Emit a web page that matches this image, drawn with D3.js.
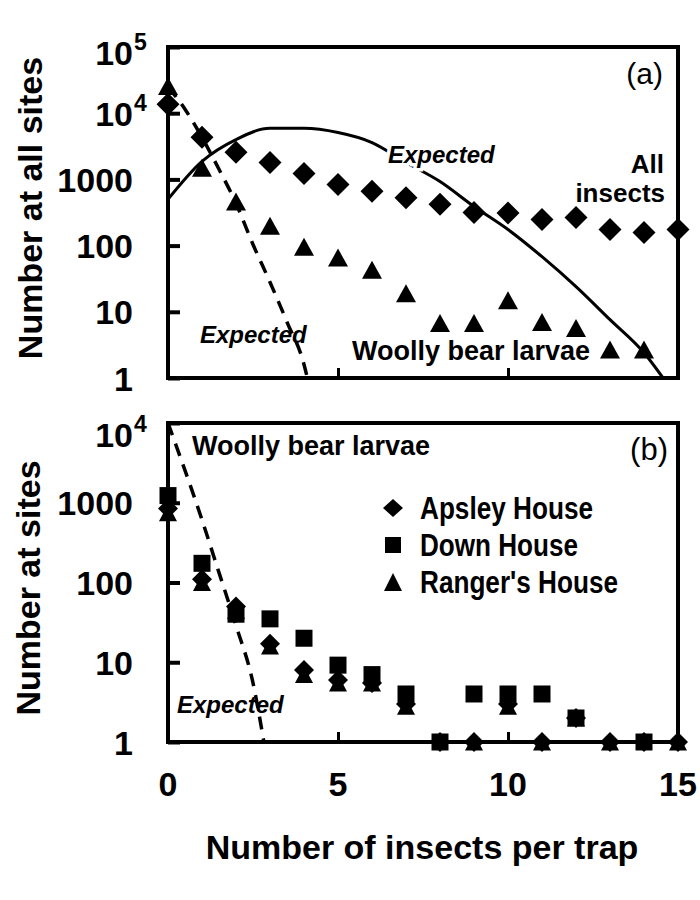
<!DOCTYPE html>
<html>
<head>
<meta charset="utf-8">
<script src="https://cdn.jsdelivr.net/npm/d3@7"></script>
<style>
body { margin: 0; background: #fff; }
text { font-family: "Liberation Sans", Arial, sans-serif; font-weight: bold; fill: #000; }
</style>
</head>
<body>
<svg id="svg"></svg>
<script>
var width = 700, height = 900;

// insects per trap (x categories)
var perTrap = [0, 1, 2, 3, 4, 5, 6, 7, 8, 9, 10, 11, 12, 13, 14, 15];

// panel (a): number at all sites
var allInsects = [13700, 4350, 2570, 1800, 1230, 840, 660, 530, 420, 316, 310, 247, 265, 175, 158, 175];
var woollyAll = [25700, 1500, 465, 200, 96, 66, 43, 19, 6.8, 6.8, 15, 7, 5.7, 2.7, 2.7, null];
var expAllX = [0, 1, 2, 3, 4, 5, 6, 7, 8, 9, 10, 11, 12, 13, 14, 14.56];
var expAllY = [500, 1870, 4000, 5900, 5900, 5100, 3600, 1800, 930, 390, 175, 68, 24, 7.6, 2.4, 1];
var expWoollyX = [0, 0.5, 1, 1.5, 2, 2.5, 3, 3.5, 4, 4.1];
var expWoollyY = [25000, 11500, 4300, 1420, 435, 104, 28, 7, 1.6, 1];

// panel (b): woolly bear larvae at each site
var apsley = [850, 110, 50, 17, 8, 6, 5.5, 3, 1, 1, 3, 1, 2, 1, 1, 1];
var down = [1230, 174, 40, 35, 20, 9.2, 7, 4, 1, 4, 4, 4, 2, null, 1, null];
var ranger = [750, 100, 45, 16, 7, 5.5, 5.5, 2.8, null, 1, 2.8, 1, 2, 1, null, 1];
var expSitesX = [0, 1, 1.5, 2, 2.5, 2.82];
var expSitesY = [10000, 610, 133, 29, 5.5, 1];

var yTicksA = [1, 10, 100, 1000, 1e4, 1e5];
var yTicksB = [1, 10, 100, 1000, 1e4];
var xTickLabels = [0, 5, 10, 15];
var xTickMarks = [5, 10];

var svg = d3.select("#svg")
	.attr("width", width)
	.attr("height", height);

var x = d3.scaleLinear().domain([0, 15]).range([168, 678]);
var yA = d3.scaleLog().domain([1, 1e5]).range([378, 47]);
var yB = d3.scaleLog().domain([1, 1e4]).range([742, 423]);

// marker shapes, centred on their bounding box
function diamond(w, h) {
	return "M0," + (-h / 2) + "L" + (w / 2) + ",0L0," + (h / 2) + "L" + (-w / 2) + ",0Z";
}
function square(s) {
	return "M" + (-s / 2) + "," + (-s / 2) + "h" + s + "v" + s + "h" + (-s) + "Z";
}
function triangle(w, h) {
	return "M0," + (-h / 2) + "L" + (w / 2) + "," + (h / 2) + "L" + (-w / 2) + "," + (h / 2) + "Z";
}

function points(g, y, values, shape) {
	var pts = perTrap.map(function(d, i) { return [d, values[i]]; })
		.filter(function(d) { return d[1] != null; });
	g.append("g").selectAll("path")
		.data(pts)
		.enter()
		.append("path")
		.attr("transform", function(d) { return "translate(" + x(d[0]) + "," + y(d[1]) + ")"; })
		.attr("d", shape)
		.style("fill", "#000");
}

function curve(g, y, xs, ys, dashed, clipId) {
	var line = d3.line()
		.x(function(d) { return x(d[0]); })
		.y(function(d) { return y(d[1]); })
		.curve(d3.curveMonotoneX);
	g.append("path")
		.datum(xs.map(function(d, i) { return [d, ys[i]]; }))
		.attr("d", line)
		.attr("clip-path", "url(#" + clipId + ")")
		.style("fill", "none")
		.style("stroke", "#000")
		.style("stroke-width", dashed ? 3.5 : 3)
		.style("stroke-dasharray", dashed ? "13,9" : null);
}

function frame(g, y, ticks, clipId, topShift) {
	var r = y.range();
	svg.append("clipPath").attr("id", clipId)
		.append("rect")
		.attr("x", x.range()[0]).attr("y", r[1])
		.attr("width", x.range()[1] - x.range()[0]).attr("height", r[0] - r[1]);

	g.append("g")
		.attr("transform", "translate(" + x.range()[0] + ",0)")
		.call(d3.axisLeft(y).tickValues(ticks).tickSize(-12).tickFormat(""))
		.call(function(a) {
			a.select(".domain").remove();
			a.selectAll("line").style("stroke-width", 4);
		});
	g.append("g")
		.attr("transform", "translate(0," + r[0] + ")")
		.call(d3.axisBottom(x).tickValues(xTickMarks).tickSize(-10).tickFormat(""))
		.call(function(a) {
			a.select(".domain").remove();
			a.selectAll("line").style("stroke-width", 3);
		});
	g.append("rect")
		.attr("x", x.range()[0]).attr("y", r[1])
		.attr("width", x.range()[1] - x.range()[0]).attr("height", r[0] - r[1])
		.style("fill", "none")
		.style("stroke", "#000")
		.style("stroke-width", 4);

	var maxTick = d3.max(ticks);
	ticks.forEach(function(v) {
		var base = y(v) + 12.5 + (v === maxTick ? topShift : 0);
		if (v >= 1e4) {
			var e = Math.round(Math.log10(v));
			g.append("text").attr("x", 133).attr("y", base)
				.style("text-anchor", "end").style("font-size", "34px").text("10");
			g.append("text").attr("x", 134).attr("y", base - 15)
				.style("font-size", "23px").text(e);
		} else {
			g.append("text").attr("x", 133).attr("y", base)
				.style("text-anchor", "end").style("font-size", "34px").text(v);
		}
	});
}

function label(g, txt, px, py, size, opts) {
	opts = opts || {};
	var t = g.append("text")
		.attr("x", px).attr("y", py)
		.style("font-size", size + "px")
		.style("text-anchor", opts.anchor || "start")
		.text(txt);
	if (opts.italic) t.style("font-style", "italic");
	if (opts.normal) t.style("font-weight", "normal");
	if (opts.len) t.attr("textLength", opts.len).attr("lengthAdjust", "spacingAndGlyphs");
	if (opts.halo) t.style("stroke", "#fff").style("stroke-width", 7).style("paint-order", "stroke");
	return t;
}

// ---- panel (a)
var ga = svg.append("g");
frame(ga, yA, yTicksA, "clipA", 5.5);
curve(ga, yA, expAllX, expAllY, false, "clipA");
curve(ga, yA, expWoollyX, expWoollyY, true, "clipA");
points(ga, yA, allInsects, diamond(23, 23));
points(ga, yA, woollyAll, triangle(20, 18));
label(ga, "Expected", 388, 163, 24, { italic: true, halo: true });
label(ga, "Expected", 200, 343, 24, { italic: true });
label(ga, "Woolly bear larvae", 352, 360, 27);
label(ga, "All", 664, 173, 26, { anchor: "end" });
label(ga, "insects", 665, 202, 26, { anchor: "end" });
label(ga, "(a)", 663, 84, 30, { anchor: "end", normal: true });

ga.append("text")
	.attr("transform", "translate(42,208) rotate(-90)")
	.style("text-anchor", "middle")
	.style("font-size", "34px")
	.text("Number at all sites");

// ---- panel (b)
var gb = svg.append("g");
frame(gb, yB, yTicksB, "clipB", 11.5);
curve(gb, yB, expSitesX, expSitesY, true, "clipB");
points(gb, yB, down, square(17));
points(gb, yB, apsley, diamond(20, 20));
points(gb, yB, ranger, triangle(18, 17));
label(gb, "Woolly bear larvae", 192, 455, 27);
label(gb, "Expected", 177, 713, 24, { italic: true });
label(gb, "(b)", 668, 460, 31, { anchor: "end", normal: true });

// legend
var legendNames = ["Apsley House", "Down House", "Ranger's House"];
var legendShapes = [diamond(20, 18), square(16), triangle(18, 18)];
var legendLens = [173, 158, 198];
legendNames.forEach(function(n, i) {
	var ly = 508 + i * 37;
	gb.append("path")
		.attr("transform", "translate(393," + ly + ")")
		.attr("d", legendShapes[i])
		.style("fill", "#000");
	label(gb, n, 420, ly + 11, 32, { len: legendLens[i] });
});

gb.append("text")
	.attr("transform", "translate(40,588) rotate(-90)")
	.style("text-anchor", "middle")
	.style("font-size", "34px")
	.text("Number at sites");

// x tick labels and title
gb.selectAll(".xlab")
	.data(xTickLabels)
	.enter()
	.append("text")
	.attr("class", "xlab")
	.attr("x", function(d) { return x(d); })
	.attr("y", 796)
	.style("text-anchor", "middle")
	.style("font-size", "34px")
	.text(function(d) { return d; });

svg.append("text")
	.attr("x", 422)
	.attr("y", 859)
	.style("text-anchor", "middle")
	.style("font-size", "34px")
	.text("Number of insects per trap");
</script>
</body>
</html>
